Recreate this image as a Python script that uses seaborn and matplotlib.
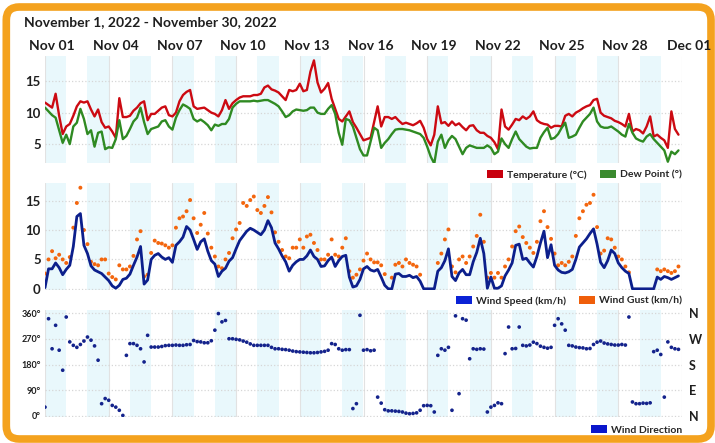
import numpy as np
import pandas as pd
import seaborn as sns
import matplotlib
matplotlib.use('Agg')
import matplotlib.pyplot as plt
from matplotlib.patches import FancyBboxPatch, Patch
from matplotlib.transforms import ScaledTranslation

# 4-hourly readings, Nov 1 - Nov 30 2022
times = pd.date_range('2022-11-01', periods=180, freq='4h')

temperature = [
    11.6, 11.2, 10.8, 13.0, 9.5, 6.6, 7.8, 8.2, 9.5, 11.0, 11.8, 11.6,
    11.8, 10.5, 9.4, 10.5, 8.5, 7.6, 7.8, 7.0, 6.0, 12.3, 9.3, 9.3,
    9.5, 10.3, 10.8, 11.5, 11.8, 8.8, 9.8, 9.8, 10.3, 10.8, 11.0, 9.6,
    9.4, 10.0, 11.8, 12.8, 13.3, 13.6, 11.0, 10.6, 10.7, 10.8, 10.4, 10.0,
    9.8, 9.4, 10.4, 12.0, 10.6, 11.5, 12.0, 12.4, 12.6, 12.6, 12.6, 12.8,
    12.8, 13.0, 14.0, 14.3, 13.7, 13.5, 13.2, 12.6, 12.0, 13.6, 13.4, 13.6,
    14.6, 13.4, 13.6, 16.5, 18.3, 14.8, 13.2, 13.8, 14.7, 12.2, 10.6, 9.0,
    8.6, 9.4, 10.2, 8.5, 7.6, 6.6, 5.6, 5.8, 6.0, 8.5, 11.0, 7.8,
    9.3, 9.3, 9.0, 9.3, 8.7, 8.2, 8.4, 8.2, 8.0, 8.3, 8.7, 7.6,
    5.8, 4.8, 6.5, 11.0, 8.3, 8.5, 7.9, 8.6, 8.0, 8.3, 7.7, 7.2,
    7.9, 8.0, 7.2, 6.8, 6.8, 6.3, 6.0, 5.3, 4.2, 10.5, 7.8, 7.3,
    8.1, 9.0, 8.8, 9.4, 9.0, 9.4, 10.2, 8.8, 8.4, 8.2, 8.1, 7.6,
    7.9, 7.9, 7.8, 9.5, 9.8, 9.4, 10.0, 10.3, 10.7, 11.0, 11.2, 12.0,
    12.2, 10.0, 9.5, 9.3, 9.1, 8.7, 8.5, 8.2, 7.8, 9.8, 7.0, 7.4,
    7.2, 6.7, 7.8, 9.4, 6.2, 6.5, 6.0, 5.6, 4.4, 10.2, 7.4, 6.5,
]

dew_point = [
    10.8, 10.2, 9.6, 9.2, 7.2, 5.2, 6.5, 5.0, 7.8, 8.4, 10.6, 9.0,
    6.6, 7.2, 4.6, 6.8, 7.0, 4.2, 4.5, 4.4, 5.8, 8.8, 5.8, 6.3,
    7.4, 8.6, 9.2, 10.8, 8.5, 6.6, 7.4, 7.6, 7.8, 8.6, 8.8, 7.8,
    7.3, 9.2, 10.4, 11.3, 11.0, 10.6, 9.0, 8.6, 8.9, 8.5, 8.0, 7.2,
    8.1, 7.9, 8.2, 8.2, 9.0, 10.8, 11.4, 11.8, 11.8, 11.8, 11.8, 11.9,
    11.8, 11.9, 12.0, 12.0, 11.7, 11.4, 11.0, 10.2, 9.3, 9.6, 10.2, 10.5,
    10.4, 10.3, 10.4, 10.8, 10.8, 10.0, 9.8, 9.8, 10.6, 11.2, 9.8, 6.8,
    4.9, 9.0, 8.8, 7.8, 6.0, 4.2, 3.2, 3.2, 5.4, 7.6, 7.2, 4.4,
    5.2, 5.8, 6.6, 7.3, 7.4, 7.4, 7.3, 7.2, 7.0, 6.8, 6.6, 6.0,
    4.6, 3.0, 1.9, 5.4, 6.5, 4.4, 5.6, 6.3, 5.8, 4.6, 3.4, 4.4,
    4.8, 4.6, 4.4, 4.4, 4.4, 4.8, 4.4, 3.4, 3.8, 5.9, 5.0, 4.4,
    5.8, 7.0, 5.8, 5.2, 4.6, 4.3, 4.4, 4.4, 6.0, 6.9, 7.6, 5.8,
    6.0, 6.6, 7.6, 8.4, 6.0, 6.2, 6.5, 7.6, 8.6, 9.2, 9.8, 10.8,
    8.6, 7.8, 7.6, 7.6, 7.8, 7.4, 7.0, 6.5, 6.2, 8.2, 6.8, 5.9,
    5.6, 5.4, 6.2, 6.6, 5.8, 5.2, 4.6, 4.0, 2.2, 3.8, 3.4, 4.0,
]

wind_speed = [
    0.2, 3.4, 3.4, 4.4, 3.6, 2.4, 3.3, 4.0, 7.2, 12.3, 12.8, 7.4,
    6.0, 3.9, 3.2, 2.9, 2.6, 2.0, 1.4, 0.5, 0.1, 0.6, 1.6, 1.8,
    2.5, 4.0, 5.4, 7.2, 0.8, 1.5, 5.0, 5.7, 6.0, 5.4, 5.0, 5.3,
    4.5, 7.4, 8.0, 8.8, 10.6, 10.0, 8.4, 6.7, 8.0, 8.5, 6.4, 4.8,
    4.2, 2.1, 3.0, 3.5, 4.7, 5.3, 6.8, 8.2, 9.0, 9.8, 10.3, 10.0,
    9.6, 9.2, 10.0, 11.6, 10.4, 7.8, 6.8, 5.6, 4.6, 3.0, 4.0, 4.6,
    5.0, 5.0, 5.6, 6.6, 5.5, 5.0, 3.8, 3.9, 4.8, 5.4, 3.8, 4.8,
    5.5, 5.7, 2.0, 0.3, 0.5, 1.6, 3.4, 3.8, 3.2, 3.0, 3.3, 2.0,
    0.6, 0.0, 0.0, 2.5, 2.6, 2.1, 2.1, 2.3, 1.9, 2.1, 1.3, 0.0,
    0.0, 0.0, 0.0, 3.0, 3.6, 4.8, 6.8, 2.1, 1.4, 2.7, 3.3, 2.4,
    2.4, 4.6, 6.2, 8.6, 6.0, 0.1, 2.0, 0.1, 0.1, 0.5, 2.2, 3.2,
    4.4, 7.4, 7.6, 5.0, 5.2, 4.4, 3.7, 5.5, 7.8, 9.8, 5.3, 7.5,
    4.0, 3.2, 2.8, 2.7, 2.9, 3.3, 5.0, 7.1, 7.8, 8.5, 9.4, 10.2,
    7.6, 4.5, 3.6, 4.8, 6.6, 6.0, 4.4, 3.6, 3.0, 2.6, 0.0, 0.0,
    0.0, 0.0, 0.0, 0.0, 0.0, 2.0, 1.6, 2.1, 1.9, 1.6, 1.9, 2.2,
]

nan = np.nan
wind_gust = [
    2.6, 5.0, 6.4, 5.2, 5.8, 5.0, 4.4, 5.4, 10.4, 14.6, 17.2, 10.0,
    7.6, 4.6, 4.2, 4.0, 5.0, 5.0, 2.6, 2.0, 1.6, 4.0, 3.3, 3.3,
    3.8, 5.6, 8.4, 9.8, 2.1, 2.4, 6.1, 8.2, 7.8, 7.7, 7.4, 7.0,
    7.4, 10.4, 12.0, 12.3, 13.2, 15.1, 12.0, 9.5, 10.9, 12.9, 9.4, 7.0,
    5.5, 3.8, 3.5, 5.0, 6.1, 8.6, 10.1, 11.2, 14.6, 14.1, 15.1, 15.7,
    13.4, 12.9, 14.1, 15.6, 13.0, 9.6, 8.0, 6.6, 5.5, 5.2, 7.0, 7.0,
    8.4, 7.0, 8.9, 9.2, 7.8, 6.6, 5.0, 5.0, 5.8, 8.4, 5.8, 5.5,
    7.0, 8.6, 3.0, 1.9, 2.4, 3.3, 4.8, 6.0, 5.0, 4.5, 4.5, 4.0,
    2.5, nan, 1.9, 4.1, 4.4, 3.8, 5.0, 4.4, 4.1, 3.8, 2.4, nan,
    nan, nan, nan, 4.4, 6.0, 8.4, 10.1, 3.8, 2.8, 5.0, 5.5, 4.4,
    5.5, 7.2, 9.0, 12.6, 8.0, 1.9, 2.7, 1.9, 2.7, 1.9, 3.8, 5.0,
    7.2, 9.8, 10.6, 8.8, 7.8, 7.0, 6.1, 8.0, 11.5, 13.2, 10.5, 8.5,
    6.0, 4.0, 4.4, 4.0, 4.6, 5.5, 9.0, 12.0, 13.2, 14.3, 14.6, 16.0,
    10.5, 6.0, 6.5, 8.6, 8.4, 7.0, 5.5, 5.0, 3.8, 2.8, nan, nan,
    nan, nan, nan, nan, nan, 3.3, 3.0, 3.3, 3.0, 2.7, 3.0, 3.8,
]

wind_dir = [
    31, 340, 235, 317, 230, 160, 346, 259, 247, 240, 250, 262,
    276, 265, 245, 195, 43, 61, 55, 37, 31, 20, 2, 212,
    253, 253, 247, 235, 189, 282, 241, 241, 241, 243, 246, 247,
    247, 248, 247, 247, 249, 250, 264, 260, 259, 256, 256, 263,
    300, 358, 329, 334, 270, 270, 268, 266, 262, 258, 252, 247,
    247, 247, 247, 247, 240, 235, 235, 233, 232, 230, 227, 225,
    224, 223, 222, 221, 221, 222, 224, 226, 230, 253, 250, 235,
    230, 232, 232, 26, 43, 352, 230, 232, 228, 230, 66, 45,
    22, 18, 18, 17, 16, 14, 10, 8, 9, 11, 20, 36,
    37, 36, 14, 212, 235, 230, 240, 20, 350, 78, 340, 335,
    200, 235, 233, 235, 234, 14, 31, 37, 46, 43, 218, 311,
    235, 236, 311, 247, 245, 248, 258, 253, 244, 240, 237, 240,
    317, 340, 322, 300, 247, 245, 241, 239, 238, 235, 236, 250,
    258, 262, 255, 252, 250, 248, 248, 250, 248, 346, 49, 43,
    43, 45, 44, 46, 225, 230, 215, 66, 259, 240, 235, 233,
]

df = pd.DataFrame({'time': times, 'temp': temperature, 'dew': dew_point,
                   'speed': wind_speed, 'gust': wind_gust, 'dir': wind_dir})

start = pd.Timestamp('2022-11-01')
end = pd.Timestamp('2022-12-01')
tick_days = pd.date_range(start, end, freq='3D')

sns.set_style('white')
plt.rcParams['font.family'] = ['Lato', 'DejaVu Sans']
txt = '#1e1e1e'

fig = plt.figure(figsize=(7.15, 4.43), dpi=100)

# orange rounded frame (behind the axes)
frame = FancyBboxPatch((0.063, 0.04), 7.047, 4.32,
                       boxstyle='round,pad=0,rounding_size=0.13',
                       transform=fig.dpi_scale_trans, fc='white',
                       ec='#f4a21e', lw=5.5, zorder=-10)
fig.patches.append(frame)

W, H = 715, 443
def panel(top, bottom):
    return fig.add_axes([45 / W, 1 - bottom / H, 637 / W, (bottom - top) / H])

ax1 = panel(56, 163)
ax2 = panel(183, 290)
ax3 = panel(310, 417)

for ax in (ax1, ax2, ax3):
    ax.set_facecolor('none')
    # every other day shaded
    for d in range(0, 30, 2):
        ax.axvspan(start + pd.Timedelta(days=d), start + pd.Timedelta(days=d + 1),
                   color='#e9f8fc', lw=0, zorder=0)
    for t in tick_days:
        ax.axvline(t, color='#e2e2e2', lw=0.8, zorder=0.5)
    ax.grid(axis='y', color='#d6d6d6', ls=':', lw=0.9)
    ax.grid(axis='x', visible=False)
    ax.set_xlim(start, end)
    sns.despine(ax=ax, left=True, bottom=True)

# temperature / dew point
sns.lineplot(data=df, x='time', y='temp', ax=ax1, color='#cc0a12', lw=1.7, legend=False)
sns.lineplot(data=df, x='time', y='dew', ax=ax1, color='#2f8a22', lw=1.7, legend=False)
ax1.set_ylim(2, 19)
ax1.set_yticks([5, 10, 15])

# wind speed / gust
sns.scatterplot(data=df, x='time', y='gust', ax=ax2, color='#f3660e', s=8,
                edgecolor='none', zorder=2, legend=False)
sns.lineplot(data=df, x='time', y='speed', ax=ax2, color='#0c1f8c', lw=2.0,
             legend=False, zorder=3)
ax2.set_ylim(-0.2, 18)
ax2.set_yticks([0, 5, 10, 15])

# wind direction
sns.scatterplot(data=df, x='time', y='dir', ax=ax3, color='#14238c', s=7,
                edgecolor='none', zorder=2, legend=False)
ax3.set_ylim(-3.5, 370.5)
ax3.set_yticks([0, 90, 180, 270, 360])
ax3.set_yticklabels(['0°', '90°', '180°', '270°', '360°'])

for ax in (ax1, ax2, ax3):
    ax.set_xlabel('')
    ax.set_ylabel('')
    ax.set_xticks(tick_days)
    ax.tick_params(axis='y', length=0, pad=3, labelsize=9.5, labelcolor=txt)
    for lbl in ax.get_yticklabels():
        lbl.set_fontweight('bold')
ax3.tick_params(axis='y', labelsize=6.5)

ax1.set_xticklabels([t.strftime('%b %d') for t in tick_days])
ax1.tick_params(axis='x', top=True, labeltop=True, bottom=False, labelbottom=False,
                length=0, pad=3, labelsize=10, labelcolor=txt)
shift = ScaledTranslation(0.07, 0, fig.dpi_scale_trans)
for lbl in ax1.get_xticklabels():
    lbl.set_fontweight('bold')
    lbl.set_transform(lbl.get_transform() + shift)
for ax in (ax2, ax3):
    ax.tick_params(axis='x', length=0, labelbottom=False, labeltop=False)

# compass labels on the right
ax3r = ax3.twinx()
ax3r.set_ylim(ax3.get_ylim())
ax3r.set_yticks([0, 90, 180, 270, 360])
ax3r.set_yticklabels(['N', 'E', 'S', 'W', 'N'], fontweight='bold')
ax3r.tick_params(axis='y', length=0, pad=5, labelsize=9, labelcolor=txt)
sns.despine(ax=ax3r, left=True, bottom=True, right=True)
ax3r.grid(False)

def legend(items, y):
    handles = [Patch(facecolor=c, edgecolor='none', label=l) for l, c in items]
    fig.legend(handles=handles, loc='center right', bbox_to_anchor=(682 / W, 1 - y / H),
               ncol=len(items), frameon=False, borderpad=0, borderaxespad=0,
               handlelength=1.5, handleheight=0.75, handletextpad=0.4,
               columnspacing=1.3, prop={'weight': 'bold', 'size': 7.5})

legend([('Temperature (°C)', '#c8000e'), ('Dew Point (°)', '#3a8a2e')], 175)
legend([('Wind Speed (km/h)', '#0a22d6'), ('Wind Gust (km/h)', '#ef5e0a')], 301)
legend([('Wind Direction', '#0a16cc')], 430)

fig.text(24 / W, 1 - 22 / H, 'November 1, 2022 - November 30, 2022',
         fontsize=10, fontweight='bold', color=txt, ha='left', va='center')

fig.savefig('out.png', dpi=100)
